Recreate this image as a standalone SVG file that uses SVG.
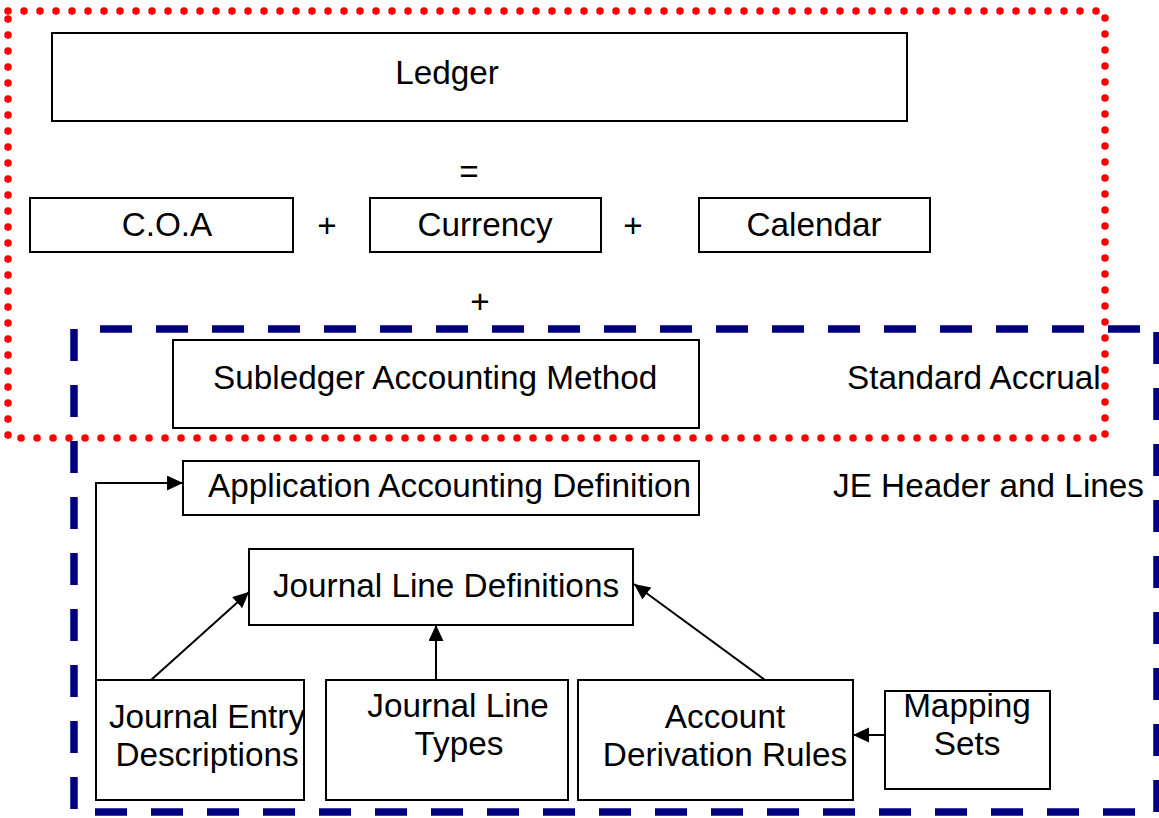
<svg xmlns="http://www.w3.org/2000/svg" width="1159" height="818" viewBox="0 0 1159 818">
<style>
.box{fill:#fff;stroke:#000;stroke-width:2}
.t{font-family:"Liberation Sans",Arial,sans-serif;font-size:33.3px;fill:#000}
.m{text-anchor:middle}
.conn{fill:none;stroke:#000;stroke-width:2}
.blue{fill:none;stroke:#000080;stroke-width:7.5;stroke-dasharray:32 24}
.red{fill:none;stroke:#ff0000;stroke-width:7.5;stroke-dasharray:0 16;stroke-linecap:round}
</style>
<defs>
<marker id="ah" markerUnits="userSpaceOnUse" markerWidth="18" markerHeight="16" refX="16" refY="7.5" orient="auto">
<path d="M0,0 L16,7.5 L0,15 Z" fill="#000"/>
</marker>
</defs>
<rect width="1159" height="818" fill="#fff"/>
<g id="je-region">
<line class="blue" x1="74" y1="329" x2="74" y2="812"/>
<line class="blue" x1="100" y1="329" x2="1156" y2="329"/>
<line class="blue" x1="95" y1="812" x2="1156" y2="812"/>
<line class="blue" x1="1157" y1="332" x2="1157" y2="812"/>
</g>
<g id="ledger"><rect class="box" x="52" y="33" width="855" height="88"/><text class="t m" x="447" y="84">Ledger</text></g>
<g id="eq"><text class="t m" x="469" y="183">=</text></g>
<g id="coa"><rect class="box" x="30" y="198" width="263" height="54"/><text class="t m" x="167" y="236">C.O.A</text></g>
<g id="plus1"><text class="t m" x="327" y="237">+</text></g>
<g id="currency"><rect class="box" x="370" y="198" width="231" height="54"/><text class="t m" x="485" y="236">Currency</text></g>
<g id="plus2"><text class="t m" x="633" y="237">+</text></g>
<g id="calendar"><rect class="box" x="699" y="198" width="231" height="54"/><text class="t m" x="814" y="236">Calendar</text></g>
<g id="plus3"><text class="t m" x="480" y="313">+</text></g>
<g id="sam"><rect class="box" x="173" y="340" width="526" height="88"/><text class="t" x="213" y="389">Subledger Accounting Method</text></g>
<g id="std-accrual"><text class="t" x="847" y="389">Standard Accrual</text></g>
<g id="aad"><rect class="box" x="183" y="461" width="516" height="54"/><text class="t" x="208" y="497">Application Accounting Definition</text></g>
<g id="je-header"><text class="t" x="833" y="497">JE Header and Lines</text></g>
<g id="jld"><rect class="box" x="249" y="549" width="384" height="76"/><text class="t m" x="446" y="597">Journal Line Definitions</text></g>
<g id="jed"><rect class="box" x="96" y="680" width="208" height="120"/><text class="t m" x="207" y="728">Journal Entry</text><text class="t m" x="207" y="766">Descriptions</text></g>
<g id="jlt"><rect class="box" x="326" y="680" width="242" height="120"/><text class="t m" x="458" y="717">Journal Line</text><text class="t m" x="459" y="755">Types</text></g>
<g id="adr"><rect class="box" x="578" y="680" width="275" height="120"/><text class="t m" x="725" y="728">Account</text><text class="t m" x="725" y="766">Derivation Rules</text></g>
<g id="mapping"><rect class="box" x="885" y="691" width="165" height="98"/><text class="t m" x="967" y="717">Mapping</text><text class="t m" x="967" y="755">Sets</text></g>
<g id="connectors">
<polyline class="conn" points="96,680 96,483 183,483" marker-end="url(#ah)"/>
<line class="conn" x1="151" y1="680" x2="249" y2="592" marker-end="url(#ah)"/>
<line class="conn" x1="436" y1="680" x2="436" y2="625" marker-end="url(#ah)"/>
<line class="conn" x1="765" y1="680" x2="634" y2="584" marker-end="url(#ah)"/>
<line class="conn" x1="885" y1="735" x2="853" y2="735" marker-end="url(#ah)"/>
</g>
<g id="ledger-region">
<path class="red" d="M8,11 H1105 V438 H8 Z"/>
</g>
</svg>
